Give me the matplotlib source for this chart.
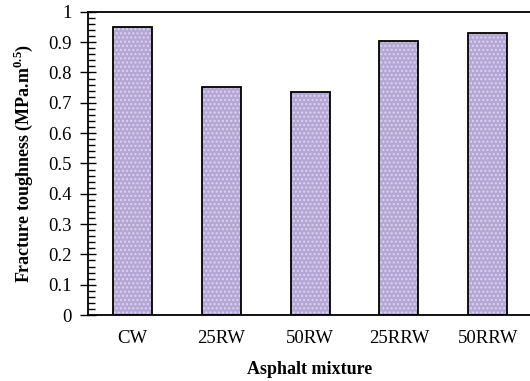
import matplotlib
matplotlib.use("Agg")
import matplotlib.pyplot as plt
from matplotlib.ticker import MultipleLocator

categories = ["CW", "25RW", "50RW", "25RRW", "50RRW"]
toughness = [0.950, 0.752, 0.737, 0.903, 0.930]
ytick_values = [0, 0.1, 0.2, 0.3, 0.4, 0.5, 0.6, 0.7, 0.8, 0.9, 1.0]
ytick_labels = ["0", "0.1", "0.2", "0.3", "0.4", "0.5", "0.6", "0.7", "0.8", "0.9", "1"]

plt.rcParams['font.family'] = ['Liberation Serif', 'DejaVu Serif']
plt.rcParams['mathtext.fontset'] = 'custom'
plt.rcParams['mathtext.rm'] = 'Liberation Serif'
plt.rcParams['mathtext.bf'] = 'Liberation Serif:bold'
plt.rcParams['hatch.linewidth'] = 1.0

fig = plt.figure(figsize=(5.30, 3.81), dpi=100)
ax = fig.add_axes([0.166, 0.173, 0.838, 0.796])

x = range(len(categories))
ax.bar(x, toughness, width=0.44, color='#b4a6d5', edgecolor='#ddd5ee', hatch='....', linewidth=0, zorder=2)
ax.bar(x, toughness, width=0.44, fill=False, edgecolor='black', linewidth=1.3, zorder=3)

ax.set_xlim(-0.5, len(categories) - 0.5)
ax.set_ylim(0, 1)
ax.set_xticks(list(x))
ax.set_xticklabels(categories, fontsize=13.5)
ax.set_yticks(ytick_values)
ax.set_yticklabels(ytick_labels, fontsize=13.5)
ax.yaxis.set_minor_locator(MultipleLocator(0.02))

ax.tick_params(axis='y', which='major', direction='inout', length=12, width=1, pad=6)
ax.tick_params(axis='y', which='minor', direction='in', length=5, width=1)
ax.tick_params(axis='x', which='major', direction='in', length=4, width=1, pad=11)

for s in ['left', 'bottom', 'top', 'right']:
    ax.spines[s].set_linewidth(1.3)
    ax.spines[s].set_zorder(4)

ax.set_ylabel("Fracture toughness (MPa.m$^{\\mathbf{0.5}}$)", fontsize=13, fontweight='bold', labelpad=9)
ax.set_xlabel("Asphalt mixture", fontsize=13, fontweight='bold', labelpad=10)

fig.savefig("out.png", dpi=100)
